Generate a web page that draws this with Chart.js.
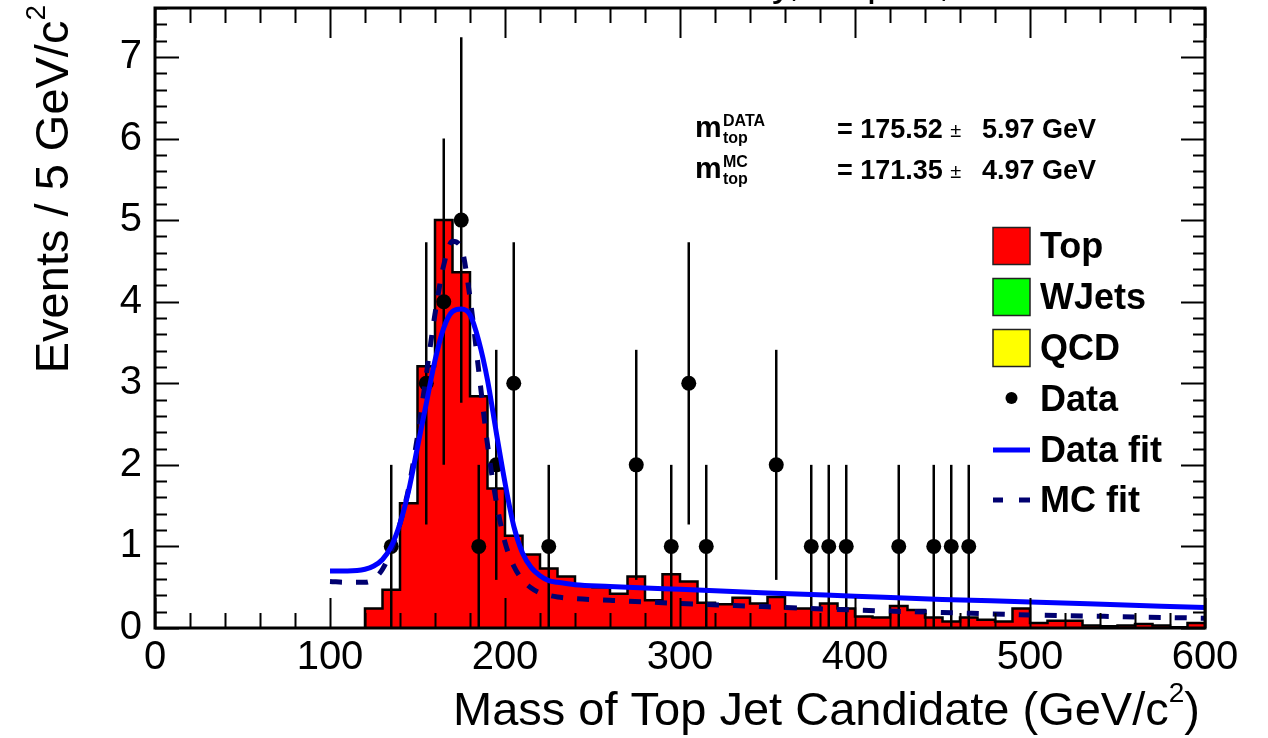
<!DOCTYPE html>
<html>
<head>
<meta charset="utf-8">
<script src="https://cdn.jsdelivr.net/npm/chart.js@4.4.1/dist/chart.umd.min.js"></script>
<style>
html,body{margin:0;padding:0;background:#ffffff;}
#wrap{width:1268px;height:738px;position:relative;}
</style>
</head>
<body>
<div id="wrap"><canvas id="c" width="1268" height="738"></canvas></div>
<script>
// ---------- data ----------
const histBinLowEdges = [120,130,140,150,160,170,180,190,200,210,220,230,240,250,260,270,280,290,300,310,
  320,330,340,350,360,370,380,390,400,410,420,430,440,450,460,470,480,490,500,510,
  520,530,540,550,560,570,580,590];
const histUpperEdge = 600;
const topCounts = [0.24,0.47,1.53,3.21,5.00,4.36,2.84,1.71,1.13,0.90,0.73,0.63,0.52,0.50,0.42,0.63,0.34,0.66,0.57,0.31,
  0.29,0.37,0.30,0.38,0.24,0.24,0.30,0.24,0.14,0.13,0.27,0.22,0.13,0.08,0.13,0.10,0.08,0.24,0.06,0.09,
  0.09,0.03,0.02,0.03,0.05,0.03,0.01,0.06];

const dataMass   = [135,155,165,175,185,195,205,225,275,295,305,315,355,375,385,395,425,445,455,465];
const dataCounts = [1,3,4,5,1,2,3,1,2,1,3,1,2,1,1,1,1,1,1,1];
const dataErrors = [1,1.73,2,2.24,1,1.41,1.73,1,1.41,1,1.73,1,1.41,1,1,1,1,1,1,1];

const fitMass     = [100,110,120,125,130,135,140,145,150,155,160,165,170,175,180,185,190,195,200,205,
  210,215,220,225,230,240,260,280,300,350,400,450,500,550,600];
const dataFitVals = [0.70,0.70,0.72,0.76,0.84,1.00,1.28,1.69,2.22,2.75,3.28,3.68,3.88,3.91,3.84,3.52,3.04,2.40,1.78,1.25,
  0.92,0.74,0.64,0.58,0.56,0.53,0.51,0.49,0.475,0.43,0.39,0.35,0.32,0.285,0.25];
const mcFitVals   = [0.57,0.56,0.56,0.60,0.72,0.95,1.28,1.72,2.35,3.10,3.85,4.45,4.74,4.66,4.05,3.15,2.25,1.55,1.05,0.76,
  0.59,0.49,0.43,0.40,0.38,0.36,0.34,0.32,0.30,0.26,0.22,0.19,0.16,0.14,0.12];

const xTickValues = [0,100,200,300,400,500,600];
const yTickValues = [0,1,2,3,4,5,6,7];
const legendLabels = ['Top','WJets','QCD','Data','Data fit','MC fit'];
const statsLines = [
  {sup:'DATA', value:'175.52', err:'5.97'},
  {sup:'MC',   value:'171.35', err:'4.97'}
];
const xTitle = 'Mass of Top Jet Candidate (GeV/c';
const yTitle = 'Events / 5 GeV/c';
const topTitle = 'CMS Preliminary, 36 pb\u207B\u00B9, \u221As = 7 TeV';

// ---------- build library structures ----------
const FONT = "'Liberation Sans', Arial, Helvetica, sans-serif";
const histPoints = [{x: histBinLowEdges[0], y: 0}];
histBinLowEdges.forEach((e, i) => histPoints.push({x: e, y: topCounts[i]}));
histPoints.push({x: histUpperEdge, y: topCounts[topCounts.length - 1]});

const dataPoints = dataMass.map((m, i) => ({x: m, y: dataCounts[i]}));
const dataFitPts = fitMass.map((m, i) => ({x: m, y: dataFitVals[i]}));
const mcFitPts = fitMass.map((m, i) => ({x: m, y: mcFitVals[i]}));

const COL = {top:'#ff0000', wjets:'#00ff00', qcd:'#ffff00', data:'#000000', dataFit:'#0000ff', mcFit:'#000070'};

const errorBarPlugin = {
  id: 'errorBars',
  afterDatasetDraw(chart, args) {
    if (chart.data.datasets[args.index].label !== 'Data') return;
    const ctx = chart.ctx, xs = chart.scales.x, ys = chart.scales.y;
    ctx.save();
    ctx.strokeStyle = '#000';
    ctx.lineWidth = 2.5;
    dataMass.forEach((m, i) => {
      const px = xs.getPixelForValue(m);
      const lo = Math.max(0, dataCounts[i] - dataErrors[i]);
      const hi = dataCounts[i] + dataErrors[i];
      ctx.beginPath();
      ctx.moveTo(px, ys.getPixelForValue(lo));
      ctx.lineTo(px, ys.getPixelForValue(hi));
      ctx.stroke();
    });
    ctx.restore();
  }
};

const decorPlugin = {
  id: 'decor',
  afterDraw(chart) {
    const ctx = chart.ctx, xs = chart.scales.x, ys = chart.scales.y;
    const L = chart.chartArea.left, R = chart.chartArea.right, T = chart.chartArea.top, B = chart.chartArea.bottom;
    ctx.save();
    // ticks
    ctx.strokeStyle = '#000';
    ctx.lineWidth = 2;
    for (let v = 0; v <= 600; v += 20) {
      const len = (v % 100 === 0) ? 30 : 15;
      const px = Math.round(xs.getPixelForValue(v)) + 0.5;
      ctx.beginPath();
      ctx.moveTo(px, B); ctx.lineTo(px, B - len);
      ctx.moveTo(px, T); ctx.lineTo(px, T + len);
      ctx.stroke();
    }
    for (let k = 0; k <= 38; k++) {
      const v = k * 0.2;
      const len = (k % 5 === 0) ? 24 : 12;
      const py = Math.round(ys.getPixelForValue(v)) + 0.5;
      ctx.beginPath();
      ctx.moveTo(L, py); ctx.lineTo(L + len, py);
      ctx.moveTo(R, py); ctx.lineTo(R - len, py);
      ctx.stroke();
    }
    // frame
    ctx.lineWidth = 3;
    ctx.strokeRect(L, T, R - L, B - T);

    ctx.fillStyle = '#000';
    // x title
    ctx.textBaseline = 'alphabetic';
    ctx.font = '47px ' + FONT;
    const wParen = ctx.measureText(')').width;
    ctx.font = '28px ' + FONT;
    const wSup = ctx.measureText('2').width;
    ctx.font = '47px ' + FONT;
    const wMain = ctx.measureText(xTitle).width;
    const xEnd = 1200;
    const xStart = xEnd - wParen - wSup - wMain;
    ctx.textAlign = 'left';
    ctx.fillText(xTitle, xStart, 725);
    ctx.fillText(')', xEnd - wParen, 725);
    ctx.font = '28px ' + FONT;
    ctx.fillText('2', xStart + wMain, 702);

    // y title (rotated)
    ctx.save();
    ctx.translate(68, 0);
    ctx.rotate(-Math.PI / 2);
    ctx.font = '47px ' + FONT;
    const wy = ctx.measureText(yTitle).width;
    ctx.font = '28px ' + FONT;
    const wys = ctx.measureText('2').width;
    const yStartAlong = -(5 + wys + wy);
    ctx.font = '47px ' + FONT;
    ctx.fillText(yTitle, yStartAlong, 0);
    ctx.font = '28px ' + FONT;
    ctx.fillText('2', yStartAlong + wy, -23);
    ctx.restore();

    // top title (mostly above the page edge)
    ctx.font = '40px ' + FONT;
    ctx.textAlign = 'left';
    ctx.fillText(topTitle, 492, -4);

    // stats text
    const rows = [138, 179];
    statsLines.forEach((s, i) => {
      const yb = rows[i];
      ctx.textAlign = 'left';
      ctx.font = 'bold 30px ' + FONT;
      ctx.fillText('m', 695, yb - 1);
      ctx.font = 'bold 16px ' + FONT;
      ctx.fillText(s.sup, 723, yb - 12);
      ctx.fillText('top', 723, yb + 5);
      ctx.font = 'bold 27px ' + FONT;
      const t1 = '= ' + s.value + ' ';
      ctx.fillText(t1, 837, yb);
      const w1 = ctx.measureText(t1).width;
      ctx.font = '20px ' + FONT;
      ctx.fillText('\u00B1', 837 + w1, yb - 1);
      ctx.font = 'bold 27px ' + FONT;
      ctx.fillText(s.err + ' GeV', 982, yb);
    });

    // legend
    const lx = 993, bw = 37, tx = 1040;
    const rowY = [246, 297, 348, 399, 450, 500];
    const boxCols = [COL.top, COL.wjets, COL.qcd];
    ctx.lineWidth = 1.5;
    for (let i = 0; i < 3; i++) {
      ctx.fillStyle = boxCols[i];
      ctx.fillRect(lx, rowY[i] - bw / 2, bw, bw);
      ctx.strokeStyle = '#222';
      ctx.strokeRect(lx, rowY[i] - bw / 2, bw, bw);
    }
    ctx.fillStyle = '#000';
    ctx.beginPath();
    ctx.arc(lx + bw / 2, rowY[3] - 1, 6, 0, Math.PI * 2);
    ctx.fill();
    ctx.strokeStyle = COL.dataFit;
    ctx.lineWidth = 5;
    ctx.beginPath(); ctx.moveTo(lx, rowY[4]); ctx.lineTo(lx + bw, rowY[4]); ctx.stroke();
    ctx.strokeStyle = COL.mcFit;
    ctx.beginPath();
    ctx.moveTo(lx, rowY[5]); ctx.lineTo(lx + 10, rowY[5]);
    ctx.moveTo(lx + 26, rowY[5]); ctx.lineTo(lx + bw, rowY[5]);
    ctx.stroke();
    ctx.fillStyle = '#000';
    ctx.font = 'bold 36px ' + FONT;
    ctx.textBaseline = 'middle';
    legendLabels.forEach((lab, i) => ctx.fillText(lab, tx, rowY[i] + 2));
    ctx.restore();
  }
};

new Chart(document.getElementById('c'), {
  type: 'scatter',
  data: {
    datasets: [
      {type:'line', label:'Top', data: histPoints, stepped: true, fill: 'origin',
       backgroundColor: COL.top, borderColor: '#000', borderWidth: 2.5, pointRadius: 0, order: 5},
      {type:'scatter', label:'Data', data: dataPoints, pointRadius: 7.5, pointHoverRadius: 7.5,
       backgroundColor: COL.data, borderColor: COL.data, borderWidth: 0, order: 3},
      {type:'line', label:'MC fit', data: mcFitPts, borderColor: COL.mcFit, borderWidth: 5,
       borderDash: [12, 14], cubicInterpolationMode: 'monotone', pointRadius: 0, fill: false, order: 2},
      {type:'line', label:'Data fit', data: dataFitPts, borderColor: COL.dataFit, borderWidth: 5,
       cubicInterpolationMode: 'monotone', pointRadius: 0, fill: false, order: 1}
    ]
  },
  options: {
    responsive: false,
    animation: false,
    devicePixelRatio: 1,
    events: [],
    layout: {padding: {top: 8, right: 63, left: 0, bottom: 0}},
    plugins: {legend: {display: false}, tooltip: {enabled: false}, title: {display: false}},
    scales: {
      x: {
        type: 'linear', min: 0, max: 600,
        grid: {display: false, drawTicks: false},
        border: {display: false},
        afterBuildTicks(scale) { scale.ticks = xTickValues.map(v => ({value: v})); },
        ticks: {color: '#000', font: {family: FONT, size: 40}, padding: 6, maxRotation: 0, autoSkip: false},
        afterFit(scale) { scale.height = 110; scale.paddingLeft = 0; scale.paddingRight = 0; }
      },
      y: {
        type: 'linear', min: 0, max: 7.6,
        grid: {display: false, drawTicks: false},
        border: {display: false},
        afterBuildTicks(scale) { scale.ticks = yTickValues.map(v => ({value: v})); },
        ticks: {color: '#000', font: {family: FONT, size: 40}, padding: 13, autoSkip: false},
        afterFit(scale) { scale.width = 155; scale.paddingTop = 0; scale.paddingBottom = 0; }
      }
    }
  },
  plugins: [errorBarPlugin, decorPlugin]
});
</script>
</body>
</html>
